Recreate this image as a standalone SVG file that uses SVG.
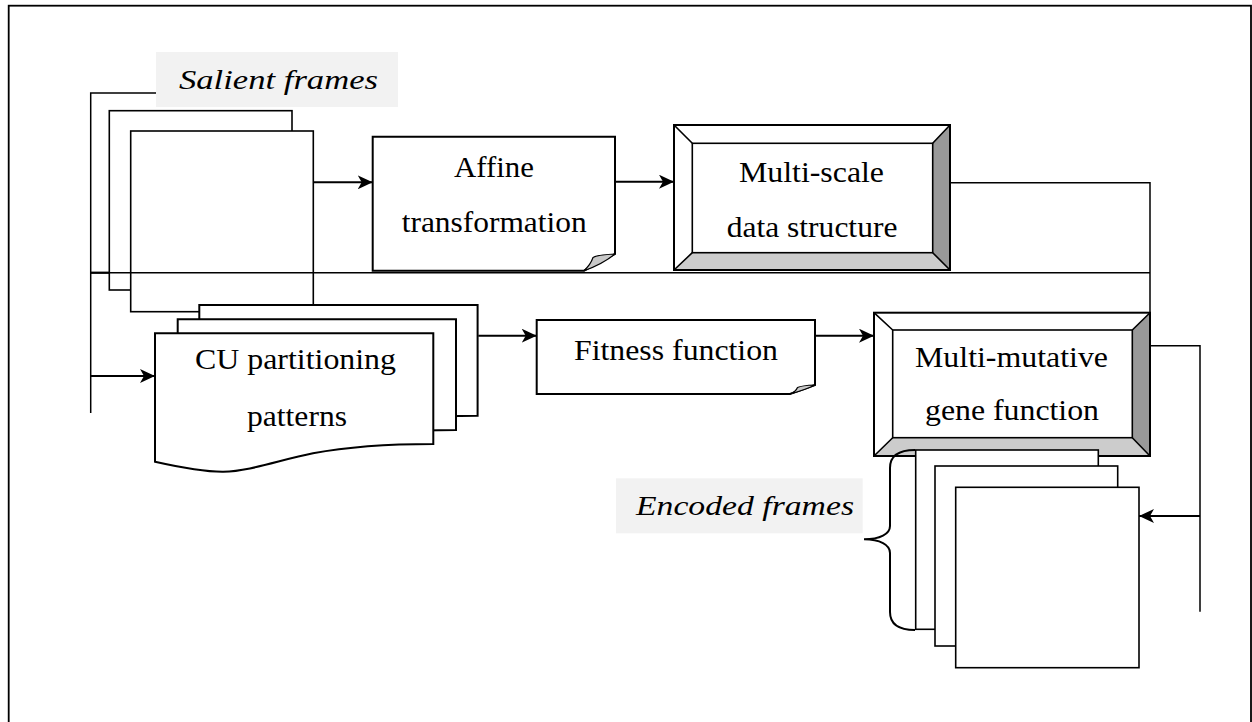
<svg xmlns="http://www.w3.org/2000/svg" width="1252" height="722" viewBox="0 0 1252 722">
  <defs>
    <style>
      .frame{fill:#fff;stroke:#000;stroke-width:1.6}
      .box{fill:#fff;stroke:#000;stroke-width:2}
      .edge{fill:none;stroke:#000;stroke-width:1.6}
      .outline{fill:none;stroke:#000;stroke-width:2}
      .dark{fill:#999}
      .light{fill:#ccc}
      .curl{fill:#c8c8c8;stroke:#000;stroke-width:1.2;stroke-linejoin:round}
      .lbl{font-family:"Liberation Serif","Times New Roman",serif;font-size:30px;fill:#000}
      .ital{font-family:"Liberation Serif","Times New Roman",serif;font-style:italic;font-size:27px;fill:#000}
      .tag{fill:#f2f2f2}
      .wire{fill:none;stroke:#000;stroke-width:1.5}
      .flow{fill:none;stroke:#000;stroke-width:2;marker-end:url(#arrow)}
      .brace{fill:none;stroke:#000;stroke-width:2}
    </style>
    <marker id="arrow" markerWidth="15" markerHeight="14" refX="15" refY="7" orient="auto" markerUnits="userSpaceOnUse">
      <path d="M0,0 L15,7 L0,14 L4,7 Z" fill="#000"/>
    </marker>
    <!-- wavy-bottom document page, origin at its top-left corner -->
    <path id="doc" d="M0,0 H278.3 V110.7 C245,110.7 195,113 158,120 C125,126.5 95,138 68.3,138.4 C50,138.6 25,134 0,128.4 Z"/>
  </defs>

  <!-- page border -->
  <rect x="8.7" y="5.7" width="1242.3" height="740" fill="none" stroke="#000" stroke-width="1.8"/>

  <!-- input stack of salient frames -->
  <g id="salient-frames">
    <rect class="frame" x="109.3" y="110.7" width="182.7" height="179.3"/>
    <rect class="frame" x="130.7" y="131" width="182.6" height="180.7"/>
  </g>

  <g id="salient-label">
    <rect class="tag" x="156" y="52" width="242" height="55"/>
    <text class="ital" x="179" y="89.3" textLength="199" lengthAdjust="spacingAndGlyphs">Salient frames</text>
  </g>

  <!-- note shape with a curled corner -->
  <g id="affine">
    <path class="box" d="M372.7,136.7 H615 V254 L584,270.7 H372.7 Z"/>
    <path class="curl" d="M615,254 C605,254.5 597,255 593,257.5 C591.5,262 588.5,266.5 584,270.7 C596,266.5 607,260.5 615,254 Z"/>
    <text class="lbl" x="454" y="176.7" textLength="80" lengthAdjust="spacingAndGlyphs">Affine</text>
    <text class="lbl" x="401.7" y="231.7" textLength="185" lengthAdjust="spacingAndGlyphs">transformation</text>
  </g>

  <!-- bevelled box -->
  <g id="multiscale">
    <rect x="674" y="125" width="276" height="145" fill="#fff"/>
    <polygon class="dark" points="950,125 950,270 932.7,252.7 932.7,143.3"/>
    <polygon class="light" points="674,270 950,270 932.7,252.7 692.3,252.7"/>
    <rect class="edge" x="692.3" y="143.3" width="240.4" height="109.4" fill="#fff"/>
    <path class="edge" d="M674,125 L692.3,143.3 M950,125 L932.7,143.3 M674,270 L692.3,252.7 M950,270 L932.7,252.7"/>
    <rect class="outline" x="674" y="125" width="276" height="145"/>
    <text class="lbl" x="739" y="181.7" textLength="145" lengthAdjust="spacingAndGlyphs">Multi-scale</text>
    <text class="lbl" x="726.7" y="236.7" textLength="170.7" lengthAdjust="spacingAndGlyphs">data structure</text>
  </g>

  <!-- multi-page document -->
  <g id="cu-patterns">
    <use href="#doc" class="box" x="199.3" y="305"/>
    <use href="#doc" class="box" x="177.7" y="319.3"/>
    <use href="#doc" class="box" x="155" y="333.3"/>
    <text class="lbl" x="195" y="369.3" textLength="201" lengthAdjust="spacingAndGlyphs">CU partitioning</text>
    <text class="lbl" x="247" y="426" textLength="100" lengthAdjust="spacingAndGlyphs">patterns</text>
  </g>

  <g id="fitness">
    <path class="box" d="M536.7,320 H815 V385 L790,394 H536.7 Z"/>
    <path class="curl" d="M815,385 C807,385.3 800.5,386 797.5,387.5 C796.5,390 794,392.3 790,394 C799,391.5 807.5,388.8 815,385 Z"/>
    <text class="lbl" x="574" y="360" textLength="204" lengthAdjust="spacingAndGlyphs">Fitness function</text>
  </g>

  <g id="multimutative">
    <rect x="874" y="312.7" width="276" height="143.3" fill="#fff"/>
    <polygon class="dark" points="1150,312.7 1150,456 1132.3,437.7 1132.3,330"/>
    <polygon class="light" points="874,456 1150,456 1132.3,437.7 892.7,437.7"/>
    <rect class="edge" x="892.7" y="330" width="239.6" height="107.7" fill="#fff"/>
    <path class="edge" d="M874,312.7 L892.7,330 M1150,312.7 L1132.3,330 M874,456 L892.7,437.7 M1150,456 L1132.3,437.7"/>
    <rect class="outline" x="874" y="312.7" width="276" height="143.3"/>
    <text class="lbl" x="915" y="366.7" textLength="193" lengthAdjust="spacingAndGlyphs">Multi-mutative</text>
    <text class="lbl" x="925" y="420" textLength="174" lengthAdjust="spacingAndGlyphs">gene function</text>
  </g>

  <!-- output stack of encoded frames -->
  <g id="encoded-frames">
    <rect class="frame" x="915.7" y="450" width="182.6" height="179.3"/>
    <rect class="frame" x="935" y="466" width="182.7" height="180"/>
    <rect class="frame" x="955.7" y="487.3" width="183.3" height="180.4"/>
    <path class="brace" d="M915,450 C898,450 890,456 890,468 V526 C890,534 880,539.3 864,539.3 C880,539.3 890,545 890,553 V612 C890,624 898,630 915,630"/>
  </g>

  <g id="encoded-label">
    <rect class="tag" x="616" y="478.3" width="246.7" height="55"/>
    <text class="ital" x="636" y="515" textLength="218" lengthAdjust="spacingAndGlyphs">Encoded frames</text>
  </g>

  <g id="connectors">
    <!-- feedback loop from the multi-scale structure back to the partitioning stage -->
    <polyline class="wire" points="950,182.7 1150,182.7 1150,312.7"/>
    <line class="wire" x1="90" y1="272.7" x2="1150" y2="272.7"/>
    <line x1="90" y1="272.7" x2="109.3" y2="272.7" stroke="#000" stroke-width="2.2"/>
    <polyline class="wire" points="156,93 90.7,93 90.7,413"/>
    <polyline class="wire" points="1150,345.7 1200,345.7 1200,611.7"/>
    <line class="flow" x1="313.3" y1="182.3" x2="372.7" y2="182.3"/>
    <line class="flow" x1="615" y1="181.7" x2="674" y2="181.7"/>
    <line class="flow" x1="90.7" y1="376" x2="155" y2="376"/>
    <line class="flow" x1="478.3" y1="335.7" x2="536.7" y2="335.7"/>
    <line class="flow" x1="815" y1="335.7" x2="874" y2="335.7"/>
    <line class="flow" x1="1200" y1="516" x2="1139" y2="516"/>
  </g>
</svg>
